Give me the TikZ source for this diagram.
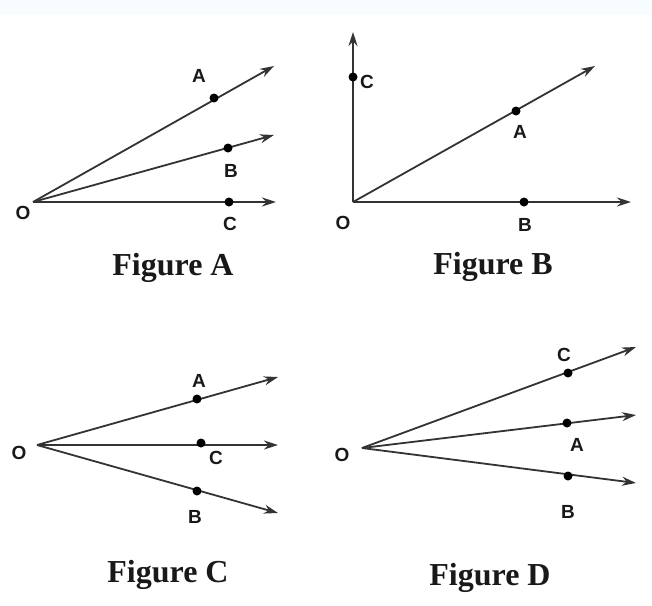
\documentclass[tikz,border=0pt]{standalone}
\usepackage{fontspec}
\setmainfont{Liberation Serif}
\newfontfamily\lblfont{Liberation Sans}
\usetikzlibrary{arrows.meta}
\tikzset{
  ray/.style={draw=black!80, line width=1.8pt, -{Stealth[length=14pt,width=9pt]}},
  pdot/.style={circle, fill=black, inner sep=0pt, minimum size=9pt},
  lbl/.style={font=\lblfont\bfseries\fontsize{19}{19}\selectfont, inner sep=0pt, text=black!90},
  figcap/.style={font=\bfseries\fontsize{32}{34}\selectfont, inner sep=0pt, text=black!90}
}
\begin{document}
\begin{tikzpicture}[x=1pt,y=-1pt]
\useasboundingbox (0,0) rectangle (652,605);
\fill[white] (0,0) rectangle (652,605);
\fill[cyan!3] (0,0) rectangle (652,15);
% Figure A
\coordinate (aO) at (33,202);
\coordinate (aAt) at (274,66);
\coordinate (aBt) at (274,135);
\coordinate (aCt) at (276,202);
\draw[ray] (aO) -- (aAt);
\draw[ray] (aO) -- (aBt);
\draw[ray] (aO) -- (aCt);
\node[pdot] (aA) at (214,98) {};
\node[pdot] (aB) at (228,148) {};
\node[pdot] (aC) at (229,202) {};
\node[lbl] (laO) at (23,213) {O};
\node[lbl] (laA) at (199,76) {A};
\node[lbl] (laB) at (231,171) {B};
\node[lbl] (laC) at (230,224) {C};
\node[figcap] (capA) at (173,268) {Figure A};
% Figure B
\coordinate (bO) at (353,202);
\coordinate (bCt) at (353,32);
\coordinate (bAt) at (595,66);
\coordinate (bBt) at (631,202);
\draw[ray] (bO) -- (bCt);
\draw[ray] (bO) -- (bAt);
\draw[ray] (bO) -- (bBt);
\node[pdot] (bA) at (516,111) {};
\node[pdot] (bB) at (524,202) {};
\node[pdot] (bC) at (353,77) {};
\node[lbl] (lbO) at (343,223) {O};
\node[lbl] (lbA) at (520,132) {A};
\node[lbl] (lbB) at (525,225) {B};
\node[lbl] (lbC) at (367,82) {C};
\node[figcap] (capB) at (493,267) {Figure B};
% Figure C
\coordinate (cO) at (37,445);
\coordinate (cAt) at (278,377);
\coordinate (cCt) at (278,445);
\coordinate (cBt) at (278,513);
\draw[ray] (cO) -- (cAt);
\draw[ray] (cO) -- (cCt);
\draw[ray] (cO) -- (cBt);
\node[pdot] (cA) at (197,399) {};
\node[pdot] (cC) at (201,443) {};
\node[pdot] (cB) at (197,491) {};
\node[lbl] (lcO) at (19,453) {O};
\node[lbl] (lcA) at (199,381) {A};
\node[lbl] (lcC) at (216,458) {C};
\node[lbl] (lcB) at (195,517) {B};
\node[figcap] (capC) at (168,575) {Figure C};
% Figure D
\coordinate (dO) at (362,448);
\coordinate (dCt) at (636,347);
\coordinate (dAt) at (636,415);
\coordinate (dBt) at (636,483);
\draw[ray] (dO) -- (dCt);
\draw[ray] (dO) -- (dAt);
\draw[ray] (dO) -- (dBt);
\node[pdot] (dC) at (568,373) {};
\node[pdot] (dA) at (567,423) {};
\node[pdot] (dB) at (568,476) {};
\node[lbl] (ldO) at (342,455) {O};
\node[lbl] (ldC) at (564,355) {C};
\node[lbl] (ldA) at (577,445) {A};
\node[lbl] (ldB) at (568,512) {B};
\node[figcap] (capD) at (490,578) {Figure D};
\end{tikzpicture}
\end{document}
